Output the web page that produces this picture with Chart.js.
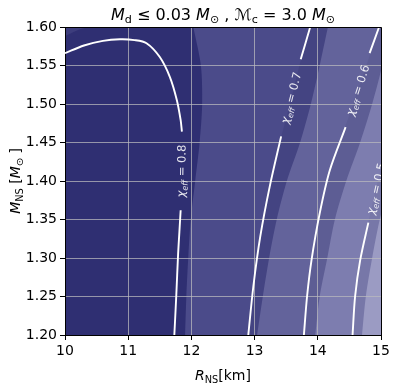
<!DOCTYPE html>
<html>
<head>
<meta charset="utf-8">
<script src="https://cdn.jsdelivr.net/npm/chart.js@4.4.0/dist/chart.umd.min.js"></script>
<style>
  html, body { margin: 0; padding: 0; background: #fff; }
  #wrap { width: 398px; height: 384px; }
</style>
</head>
<body>
<div id="wrap"><canvas id="chart"></canvas></div>
<script>
// M_NS levels where the filled band edges were read (top to bottom)
const massLevels = [1.60, 1.55, 1.50, 1.45, 1.40, 1.35, 1.30, 1.25, 1.20];

// R_NS [km] of each band edge at those levels (null = outside the plot)
const edgeLeft = [10, 10, 10, 10, 10, 10, 10, 10, 10];
const edge1    = [12.03, 12.15, 12.17, 12.13, 12.06, 11.99, 11.95, 11.92, 11.90];
const shade07  = [13.88, 13.71, 13.56, 13.40, 13.26, 13.14, 13.04, 12.96, 12.90];
const edge2    = [14.16, 14.03, 13.89, 13.72, 13.51, 13.35, 13.23, 13.13, 13.04];
const shade06  = [14.97, 14.77, 14.56, 14.35, 14.15, 14.01, 13.90, 13.83, 13.78];
const edge3    = [15.14, 15.02, 14.86, 14.67, 14.45, 14.27, 14.15, 14.03, 13.96];
const shade05  = [null, null, null, 15.12, 14.95, 14.81, 14.67, 14.59, 14.55];
const edge4    = [null, null, null, null, 15.14, 14.98, 14.86, 14.76, 14.70];
const bandColors = ['#2f2f72', '#4b4b8a', '#444482', '#63639b', '#5d5d94', '#7d7daf', '#7777a8', '#9b9bc3'];

// small lighter wedge in the top-left corner
const cornerR = [10.35, 10.18, 10.0];
const cornerM = [1.60, 1.595, 1.588];

// chi_eff contour lines (pieces between the inline labels)
const chi08UpperR = [10.0, 10.3, 10.6, 10.87, 11.1, 11.29, 11.5, 11.66, 11.77, 11.83, 11.85];
const chi08UpperM = [1.566, 1.576, 1.582, 1.584, 1.583, 1.579, 1.561, 1.535, 1.505, 1.479, 1.464];
const chi08LowerR = [11.83, 11.81, 11.79, 11.76, 11.73];
const chi08LowerM = [1.362, 1.334, 1.306, 1.25, 1.20];
const chi07UpperR = [13.73, 13.88];
const chi07UpperM = [1.558, 1.60];
const chi07LowerR = [13.42, 13.24, 13.09, 12.98, 12.90];
const chi07LowerM = [1.458, 1.393, 1.328, 1.263, 1.20];
const chi06UpperR = [14.82, 14.97];
const chi06UpperM = [1.566, 1.60];
const chi06LowerR = [14.44, 14.19, 14.03, 13.90, 13.83, 13.78];
const chi06LowerM = [1.470, 1.414, 1.358, 1.297, 1.250, 1.20];
const chi05LowerR = [14.80, 14.67, 14.59, 14.55];
const chi05LowerM = [1.346, 1.297, 1.250, 1.20];

// inline labels: value and the two ends of the gap they sit in
const chiLabels = ['0.8', '0.7', '0.6', '0.5'];
const labelFromR = [11.83, 13.42, 14.44, 14.80];
const labelFromM = [1.362, 1.458, 1.470, 1.346];
const labelToR = [11.85, 13.73, 14.82, 15.04];
const labelToM = [1.464, 1.558, 1.566, 1.434];

const FONT = '"DejaVu Sans"';
Chart.defaults.font.family = FONT;

function edgeSet(xs, color, order) {
  const pts = [];
  xs.forEach((r, i) => { if (r !== null) pts.push({ x: r, y: massLevels[i] }); });
  return {
    data: pts, fill: { value: 15 }, backgroundColor: color,
    borderColor: 'rgba(0,0,0,0)', borderWidth: 0, pointRadius: 0, tension: 0.3, order: order
  };
}

function chiLine(rs, ms) {
  return {
    data: rs.map((r, i) => ({ x: r, y: ms[i] })),
    borderColor: '#ffffff', borderWidth: 1.9, pointRadius: 0, fill: false,
    tension: 0.3, order: 0, clip: 0
  };
}

function drawRuns(ctx, runs, size, x, y) {
  const parts = runs.map(r => {
    const fs = r.sub ? size * 0.7 : size;
    const font = (r.it ? 'italic ' : '') + fs + 'px ' + FONT;
    ctx.font = font;
    return { t: r.t, font: font, w: ctx.measureText(r.t).width, dy: r.sub ? size * 0.22 : 0 };
  });
  const total = parts.reduce((s, p) => s + p.w, 0);
  let cx = x - total / 2;
  ctx.textAlign = 'left';
  ctx.textBaseline = 'alphabetic';
  parts.forEach(p => {
    ctx.font = p.font;
    ctx.fillText(p.t, cx, y + p.dy);
    cx += p.w;
  });
}

const annotate = {
  id: 'annotate',
  afterDraw(chart) {
    const ctx = chart.ctx;
    const a = chart.chartArea;
    const xs = chart.scales.x, ys = chart.scales.y;

    // top and right spines
    ctx.save();
    ctx.strokeStyle = '#000';
    ctx.lineWidth = 1;
    ctx.beginPath();
    ctx.moveTo(Math.round(a.left - 0.5) + 0.5, Math.round(a.top - 0.5) + 0.5);
    ctx.lineTo(Math.round(a.right - 0.5) + 0.5, Math.round(a.top - 0.5) + 0.5);
    ctx.lineTo(Math.round(a.right - 0.5) + 0.5, Math.round(a.bottom - 0.5) + 0.5);
    ctx.stroke();
    ctx.restore();

    // contour labels
    ctx.save();
    ctx.beginPath();
    ctx.rect(a.left, a.top, a.right - a.left, a.bottom - a.top);
    ctx.clip();
    ctx.fillStyle = 'rgba(255,255,255,0.88)';
    chiLabels.forEach((v, i) => {
      const x1 = xs.getPixelForValue(labelFromR[i]), y1 = ys.getPixelForValue(labelFromM[i]);
      const x2 = xs.getPixelForValue(labelToR[i]), y2 = ys.getPixelForValue(labelToM[i]);
      ctx.save();
      ctx.translate((x1 + x2) / 2, (y1 + y2) / 2);
      ctx.rotate(Math.atan2(y2 - y1, x2 - x1));
      drawRuns(ctx, [{ t: 'χ', it: true }, { t: 'eff', it: true, sub: true }, { t: ' = ' + v }], 11.5, 0, 4);
      ctx.restore();
    });
    ctx.restore();

    // title and axis titles
    ctx.save();
    ctx.fillStyle = '#000';
    const cx = (a.left + a.right) / 2;
    drawRuns(ctx, [
      { t: 'M', it: true }, { t: 'd', sub: true }, { t: ' ≤ 0.03 ' },
      { t: 'M', it: true }, { t: '⊙', sub: true }, { t: ' , ' },
      { t: 'ℳ' }, { t: 'c', sub: true }, { t: ' = 3.0 ' },
      { t: 'M', it: true }, { t: '⊙', sub: true }
    ], 16, cx, 19.5);
    drawRuns(ctx, [{ t: 'R', it: true }, { t: 'NS', sub: true }, { t: '[km]' }], 14, cx, 380);
    ctx.translate(19.5, (a.top + a.bottom) / 2);
    ctx.rotate(-Math.PI / 2);
    drawRuns(ctx, [
      { t: 'M', it: true }, { t: 'NS', sub: true }, { t: ' [' },
      { t: 'M', it: true }, { t: '⊙', sub: true }, { t: ' ]' }
    ], 14, 0, 0);
    ctx.restore();
  }
};

const datasets = [
  edgeSet(edgeLeft, bandColors[0], 20),
  {
    data: cornerR.map((r, i) => ({ x: r, y: cornerM[i] })), fill: { value: 10 },
    backgroundColor: '#3d3d7d', borderColor: 'rgba(0,0,0,0)', borderWidth: 0,
    pointRadius: 0, tension: 0.3, order: 19
  },
  edgeSet(edge1, bandColors[1], 18),
  edgeSet(shade07, bandColors[2], 17),
  edgeSet(edge2, bandColors[3], 16),
  edgeSet(shade06, bandColors[4], 15),
  edgeSet(edge3, bandColors[5], 14),
  edgeSet(shade05, bandColors[6], 13),
  edgeSet(edge4, bandColors[7], 12),
  chiLine(chi08UpperR, chi08UpperM),
  chiLine(chi08LowerR, chi08LowerM),
  chiLine(chi07UpperR, chi07UpperM),
  chiLine(chi07LowerR, chi07LowerM),
  chiLine(chi06UpperR, chi06UpperM),
  chiLine(chi06LowerR, chi06LowerM),
  chiLine(chi05LowerR, chi05LowerM)
];

const tickFont = { family: FONT, size: 14 };
const gridOpts = { color: 'rgba(185,185,190,0.75)', tickColor: '#000', tickLength: 5, lineWidth: 1 };

new Chart(document.getElementById('chart'), {
  type: 'line',
  data: { datasets: datasets },
  options: {
    indexAxis: 'y',
    responsive: true,
    maintainAspectRatio: false,
    animation: false,
    events: [],
    layout: { padding: { top: 27, right: 17, left: 0, bottom: 0 } },
    plugins: {
      legend: { display: false },
      tooltip: { enabled: false },
      filler: { drawTime: 'beforeDraw' }
    },
    scales: {
      x: {
        type: 'linear', position: 'bottom', min: 10, max: 15,
        ticks: { stepSize: 1, color: '#000', font: tickFont, padding: 3, maxRotation: 0 },
        grid: gridOpts,
        border: { color: '#000', width: 1 },
        afterFit(scale) { scale.height = 49; }
      },
      y: {
        type: 'linear', position: 'left', min: 1.2, max: 1.6,
        ticks: { stepSize: 0.05, color: '#000', font: tickFont, padding: 3, callback: v => v.toFixed(2) },
        grid: gridOpts,
        border: { color: '#000', width: 1 },
        afterFit(scale) { scale.width = 65; }
      }
    }
  },
  plugins: [annotate]
});
</script>
</body>
</html>
